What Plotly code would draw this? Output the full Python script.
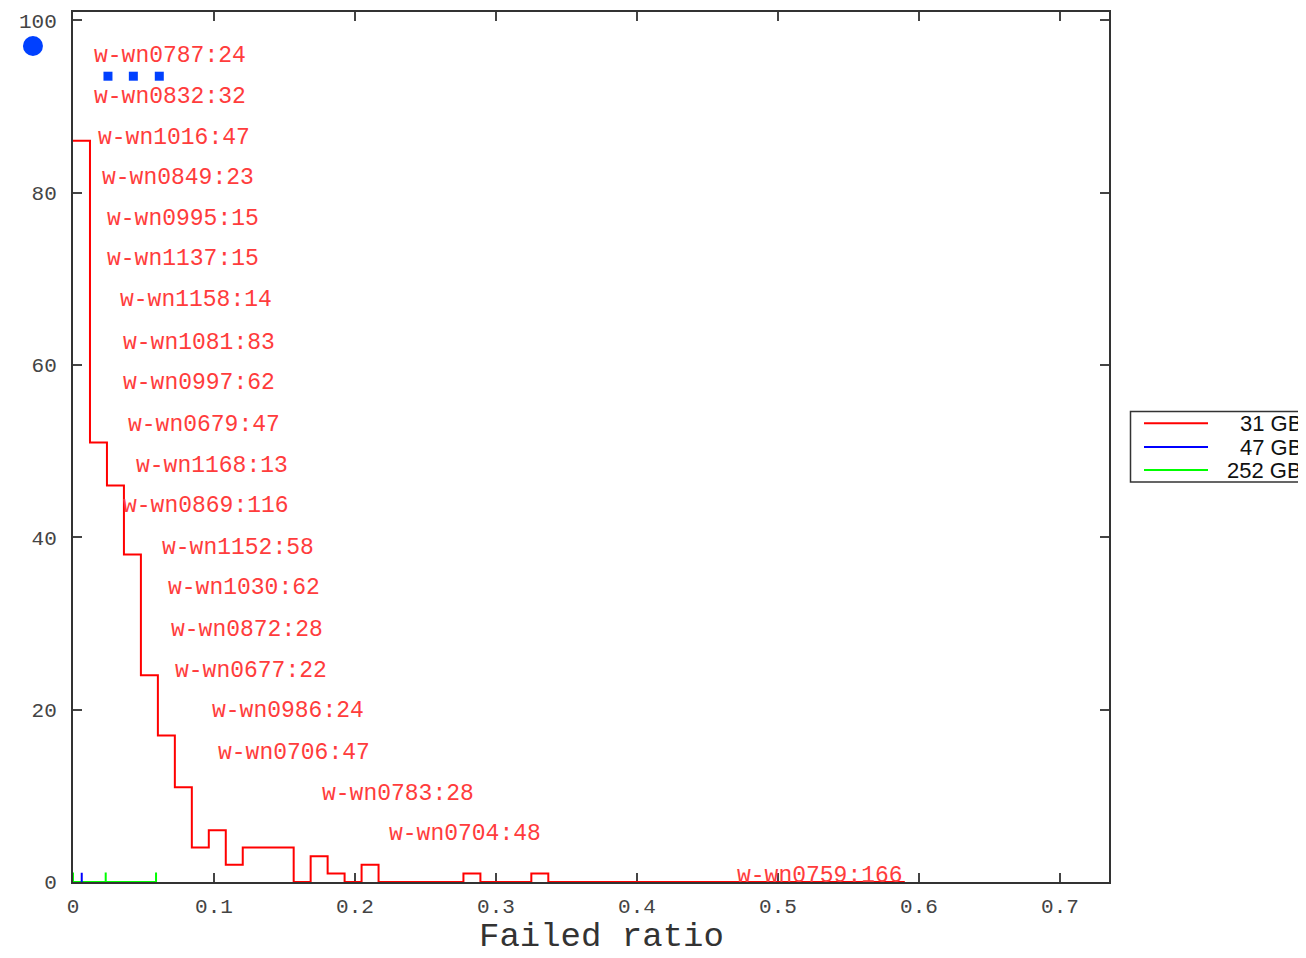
import plotly.graph_objects as go

# ---------------- data ----------------
bin_width = 0.01204
counts_31gb = [86, 51, 46, 38, 24, 17, 11, 4, 6, 2, 4, 4, 4, 0, 3, 1, 0, 2,
               0, 0, 0, 0, 0, 1, 0, 0, 0, 1, 0, 0, 0, 0, 0, 0, 0, 0, 0, 0,
               0, 0, 0, 0, 0, 0, 0, 0, 0, 0, 0]

spike_47gb_x = [0.0062]
spike_47gb_y = [1.08]
spike_252gb_x = [0.0, 0.0232, 0.0589]
spike_252gb_y = [1.1, 1.1, 1.1]

blue_circle_x = [-0.0284]
blue_circle_y = [97.0]
blue_square_x = [0.0248, 0.0428, 0.0612]
blue_square_y = [93.5, 93.5, 93.5]

node_labels = ["w-wn0787:24", "w-wn0832:32", "w-wn1016:47", "w-wn0849:23",
               "w-wn0995:15", "w-wn1137:15", "w-wn1158:14", "w-wn1081:83",
               "w-wn0997:62", "w-wn0679:47", "w-wn1168:13", "w-wn0869:116",
               "w-wn1152:58", "w-wn1030:62", "w-wn0872:28", "w-wn0677:22",
               "w-wn0986:24", "w-wn0706:47", "w-wn0783:28", "w-wn0704:48",
               "w-wn0759:166"]
node_x = [0.0151, 0.0151, 0.0179, 0.0208, 0.0239, 0.0239, 0.0333, 0.0352,
          0.0352, 0.0392, 0.0445, 0.0357, 0.0633, 0.0676, 0.0693, 0.0723,
          0.0988, 0.1030, 0.1764, 0.2241, 0.4707]
node_y = [96.0, 91.2, 86.5, 81.8, 77.0, 72.4, 67.6, 62.7, 58.0, 53.2, 48.4,
          43.8, 38.9, 34.2, 29.4, 24.6, 20.0, 15.1, 10.3, 5.65, 0.81]

legend_labels = ["31 GB", "47 GB", "252 GB"]
legend_colors = ["#ff0000", "#0000ff", "#00ff00"]

x_ticks = [0, 0.1, 0.2, 0.3, 0.4, 0.5, 0.6, 0.7]
x_tick_text = ["0", "0.1", "0.2", "0.3", "0.4", "0.5", "0.6", "0.7"]
y_ticks = [0, 20, 40, 60, 80, 100]
y_tick_text = ["0", "20", "40", "60", "80", "100"]
x_title = "Failed ratio"

X_RANGE = [0, 0.7348]
Y_RANGE = [0, 100.95]

# ---------------- build traces ----------------
edges = [i * bin_width for i in range(len(counts_31gb) + 1)]
step_x = edges
step_y = counts_31gb + [counts_31gb[-1]]


def spikes(xs, ys):
    px, py = [], []
    for x, y in zip(xs, ys):
        px += [x, x, x]
        py += [0, y, 0]
    return px, py


gx, gy = spikes(spike_252gb_x, spike_252gb_y)
bx, by = spikes(spike_47gb_x, spike_47gb_y)

fig = go.Figure()
fig.add_trace(go.Scatter(x=gx, y=gy, mode="lines", name="252 GB",
                         line=dict(color="#00ff00", width=2), showlegend=False))
fig.add_trace(go.Scatter(x=bx, y=by, mode="lines", name="47 GB",
                         line=dict(color="#0000ff", width=2), showlegend=False))
fig.add_trace(go.Scatter(x=step_x, y=step_y, mode="lines", name="31 GB",
                         line=dict(color="#ff0000", width=2, shape="hv"),
                         showlegend=False))
fig.add_trace(go.Scatter(x=blue_square_x, y=blue_square_y, mode="markers",
                         marker=dict(color="#0040ff", size=9, symbol="square"),
                         cliponaxis=False, showlegend=False))

# the circle lies outside the axis range (in the left margin) -> draw as a shape
for cx, cy in zip(blue_circle_x, blue_circle_y):
    px_ = (cx - X_RANGE[0]) / (X_RANGE[1] - X_RANGE[0])
    py_ = (cy - Y_RANGE[0]) / (Y_RANGE[1] - Y_RANGE[0])
    fig.add_shape(type="circle", xref="paper", yref="paper",
                  xsizemode="pixel", ysizemode="pixel",
                  xanchor=px_, yanchor=py_, x0=-10, x1=10, y0=-10, y1=10,
                  fillcolor="#0040ff", line=dict(width=0))

for txt, x, y in zip(node_labels, node_x, node_y):
    fig.add_annotation(x=x, y=y, xref="x", yref="y", text=txt, showarrow=False,
                       xanchor="left", yanchor="middle", xshift=-2, yshift=-1,
                       font=dict(family="Liberation Mono", size=23, color="#ff3c3c"))

# ---------------- manual legend ----------------
def px2paper_x(p):
    return (p - 73) / 1036.0


def px2paper_y(p):
    return (882 - p) / 870.0


fig.add_shape(type="rect", xref="paper", yref="paper",
              x0=px2paper_x(1130.5), x1=px2paper_x(1340),
              y0=px2paper_y(482), y1=px2paper_y(411.5),
              line=dict(color="#333333", width=1.5), fillcolor="rgba(0,0,0,0)")
leg_y = [423.3, 447, 470]
for lab, col, py in zip(legend_labels, legend_colors, leg_y):
    fig.add_shape(type="line", xref="paper", yref="paper",
                  x0=px2paper_x(1144), x1=px2paper_x(1208),
                  y0=px2paper_y(py), y1=px2paper_y(py),
                  line=dict(color=col, width=2))
    fig.add_annotation(x=px2paper_x(1304), y=px2paper_y(py), xref="paper", yref="paper",
                       text=lab, showarrow=False, xanchor="right", yanchor="middle",
                       font=dict(family="Liberation Sans", size=22, color="#111111"))

# x axis title (placed as annotation to match the reference position)
fig.add_annotation(x=px2paper_x(601), y=px2paper_y(937), xref="paper", yref="paper",
                   text=x_title, showarrow=False, xanchor="center", yanchor="middle",
                   font=dict(family="Liberation Mono", size=34, color="#333333"))

axis_common = dict(showline=True, linecolor="#333333", linewidth=2, mirror="ticks",
                   ticks="inside", ticklen=9, tickwidth=1.5, tickcolor="#444444",
                   showgrid=False, zeroline=False, layer="below traces",
                   tickfont=dict(family="Liberation Mono", size=21, color="#444444"))

fig.update_xaxes(range=X_RANGE, tickvals=x_ticks, ticktext=x_tick_text,
                 ticklabelstandoff=4, **axis_common)
fig.update_yaxes(range=Y_RANGE, tickvals=y_ticks, ticktext=y_tick_text,
                 ticklabelstandoff=10, **axis_common)

# the page body has an 8px margin: size/margins compensate so the plot area
# lands at the same pixel position as in the reference
fig.update_layout(width=1298, height=950, autosize=False,
                  margin=dict(l=65, r=197, t=4, b=76, autoexpand=False),
                  plot_bgcolor="white", paper_bgcolor="white",
                  showlegend=False)

fig.write_html("out.html")
